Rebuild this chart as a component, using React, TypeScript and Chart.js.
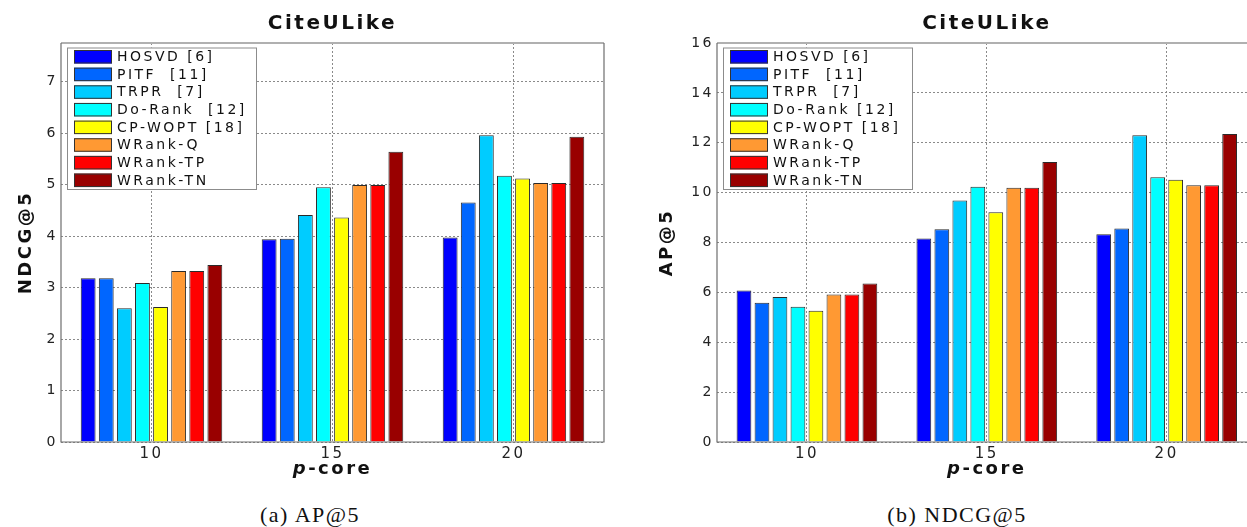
import React, { useEffect, useRef } from 'react';
import { Chart, registerables } from 'chart.js';

Chart.register(...registerables);

// ---------- data ----------
const CATEGORIES = ['10', '15', '20'];

const METHODS_A = ['HOSVD [6]', 'PITF  [11]', 'TRPR  [7]', 'Do-Rank  [12]', 'CP-WOPT [18]', 'WRank-Q', 'WRank-TP', 'WRank-TN'];
const METHODS_B = ['HOSVD [6]', 'PITF  [11]', 'TRPR  [7]', 'Do-Rank [12]', 'CP-WOPT [18]', 'WRank-Q', 'WRank-TP', 'WRank-TN'];

const COLORS = ['#0000ff', '#0066ff', '#00ccff', '#00ffff', '#ffff00', '#ff9933', '#ff0000', '#990000'];

// (a) left panel, y title NDCG@5
const HOSVD_A = [3.18, 3.94, 3.97];
const PITF_A = [3.18, 3.95, 4.65];
const TRPR_A = [2.6, 4.41, 5.96];
const DORANK_A = [3.09, 4.95, 5.17];
const CPWOPT_A = [2.62, 4.36, 5.12];
const WRANKQ_A = [3.32, 4.99, 5.03];
const WRANKTP_A = [3.32, 4.99, 5.03];
const WRANKTN_A = [3.44, 5.64, 5.93];

// (b) right panel, y title AP@5
const HOSVD_B = [6.08, 8.16, 8.33];
const PITF_B = [5.58, 8.53, 8.56];
const TRPR_B = [5.81, 9.68, 12.3];
const DORANK_B = [5.42, 10.24, 10.62];
const CPWOPT_B = [5.26, 9.21, 10.52];
const WRANKQ_B = [5.91, 10.2, 10.3];
const WRANKTP_B = [5.91, 10.2, 10.3];
const WRANKTN_B = [6.36, 11.23, 12.35];

const SERIES_A = [HOSVD_A, PITF_A, TRPR_A, DORANK_A, CPWOPT_A, WRANKQ_A, WRANKTP_A, WRANKTN_A];
const SERIES_B = [HOSVD_B, PITF_B, TRPR_B, DORANK_B, CPWOPT_B, WRANKQ_B, WRANKTP_B, WRANKTN_B];

const TITLE = 'CiteULike';
const X_TITLE_ITALIC = 'p';
const X_TITLE_REST = '-core';
const CAPTION_A = '(a) AP@5';
const CAPTION_B = '(b) NDCG@5';

// ---------- styles ----------
const FAMILY = '"DejaVu Sans", "Liberation Sans", sans-serif';
const GRID = '#8a8a8a';

const spacingPlugin = {
  id: 'spacing',
  beforeDraw(chart: any) {
    (chart.ctx as any).letterSpacing = '2.5px';
  },
};

const framePlugin = {
  id: 'frame',
  afterDatasetsDraw(chart: any) {
    const { ctx, chartArea: a } = chart;
    ctx.save();
    ctx.strokeStyle = '#b0b0b0';
    ctx.lineWidth = 2;
    ctx.beginPath();
    ctx.moveTo(a.left, a.top);
    ctx.lineTo(a.right, a.top);
    ctx.stroke();
    ctx.strokeStyle = '#6e6e6e';
    ctx.lineWidth = 1.2;
    ctx.beginPath();
    ctx.moveTo(a.left, a.top);
    ctx.lineTo(a.left, a.bottom);
    ctx.lineTo(a.right, a.bottom);
    ctx.lineTo(a.right, a.top);
    ctx.stroke();
    ctx.restore();
  },
};

const boxLegendPlugin = {
  id: 'boxLegend',
  afterDatasetsDraw(chart: any) {
    const { ctx, chartArea: a } = chart;
    const bx = a.left + 6;
    const by = a.top + 4.5;
    const bw = 190;
    const bh = 142.5;
    ctx.save();
    ctx.fillStyle = '#ffffff';
    ctx.fillRect(bx, by, bw, bh);
    ctx.strokeStyle = '#8c8c8c';
    ctx.lineWidth = 1;
    ctx.strokeRect(bx + 0.5, by + 0.5, bw - 1, bh - 1);
    chart.data.datasets.forEach((ds: any, i: number) => {
      const y = by + 2.5 + i * 17.65;
      ctx.fillStyle = ds.backgroundColor;
      ctx.fillRect(bx + 7, y, 38, 13.5);
      ctx.strokeStyle = '#333333';
      ctx.strokeRect(bx + 7.5, y + 0.5, 37, 12.5);
      ctx.fillStyle = '#111111';
      ctx.font = `14px ${FAMILY}`;
      ctx.textAlign = 'left';
      ctx.textBaseline = 'middle';
      ctx.fillText(ds.label, bx + 50, y + 7.5);
    });
    ctx.restore();
  },
};

const xTitlePlugin = {
  id: 'xTitle',
  afterDraw(chart: any) {
    const { ctx, chartArea: a } = chart;
    ctx.save();
    const fItalic = `italic bold 18px ${FAMILY}`;
    const fBold = `bold 18px ${FAMILY}`;
    ctx.font = fItalic;
    const w1 = ctx.measureText(X_TITLE_ITALIC).width;
    ctx.font = fBold;
    const w2 = ctx.measureText(X_TITLE_REST).width;
    const cx = (a.left + a.right) / 2;
    const x0 = cx - (w1 + w2) / 2;
    const y = a.bottom + 31.5;
    ctx.fillStyle = '#111111';
    ctx.textAlign = 'left';
    ctx.textBaseline = 'alphabetic';
    ctx.font = fItalic;
    ctx.fillText(X_TITLE_ITALIC, x0, y);
    ctx.font = fBold;
    ctx.fillText(X_TITLE_REST, x0 + w1, y);
    ctx.restore();
  },
};

type PanelProps = {
  left: number;
  width: number;
  height: number;
  labels: string[];
  series: number[][];
  yMax: number;
  yStep: number;
  yTitle: string;
  yTitlePad: number;
  yAxisWidth: number;
  padRight: number;
};

function Panel(p: PanelProps) {
  const ref = useRef<HTMLCanvasElement>(null);
  useEffect(() => {
    if (!ref.current) return;
    const chart = new Chart(ref.current, {
      type: 'bar',
      data: {
        labels: CATEGORIES,
        datasets: p.series.map((d, i) => ({
          label: p.labels[i],
          data: d,
          backgroundColor: COLORS[i],
          borderColor: '#2a2a2a',
          borderWidth: 1,
          categoryPercentage: 0.8,
          barPercentage: 0.82,
        })),
      },
      options: {
        responsive: false,
        animation: false,
        events: [],
        layout: { padding: { left: 0, right: p.padRight, top: 0, bottom: 0 } },
        plugins: {
          legend: { display: false },
          tooltip: { enabled: false },
          title: {
            display: true,
            text: TITLE,
            fullSize: false,
            color: '#111111',
            font: { family: FAMILY, size: 20, weight: 'bold', lineHeight: 1.2 },
            padding: { top: 12, bottom: 7 },
          },
        },
        scales: {
          x: {
            grid: { offset: false, drawTicks: false, color: GRID, lineWidth: 1 },
            border: { display: false, dash: [2, 2] },
            ticks: { font: { family: FAMILY, size: 15 }, color: '#222222', padding: 3, maxRotation: 0 },
            afterFit: (s: any) => {
              s.height = 48;
            },
          },
          y: {
            min: 0,
            max: p.yMax,
            ticks: {
              stepSize: p.yStep,
              includeBounds: false,
              font: { family: FAMILY, size: 14 },
              color: '#222222',
              padding: 3,
            },
            grid: { drawTicks: false, color: GRID, lineWidth: 1 },
            border: { display: false, dash: [2, 2] },
            title: {
              display: true,
              text: p.yTitle,
              color: '#111111',
              font: { family: FAMILY, size: 18, weight: 'bold', lineHeight: 1.2 },
              padding: { top: p.yTitlePad, bottom: 0 },
            },
            afterFit: (s: any) => {
              s.width = p.yAxisWidth;
            },
          },
        },
      } as any,
      plugins: [spacingPlugin, framePlugin, boxLegendPlugin, xTitlePlugin],
    });
    return () => chart.destroy();
  }, []);
  return (
    <canvas
      ref={ref}
      width={p.width}
      height={p.height}
      style={{ position: 'absolute', left: p.left, top: 0, width: p.width, height: p.height, display: 'block' }}
    />
  );
}

const captionStyle: React.CSSProperties = {
  position: 'absolute',
  top: 504,
  width: 300,
  textAlign: 'center',
  fontFamily: '"Liberation Serif", "Times New Roman", serif',
  fontSize: 22,
  lineHeight: '22px',
  letterSpacing: '1.5px',
  color: '#111',
  whiteSpace: 'pre',
};

export default function App() {
  return (
    <div
      style={{
        position: 'fixed',
        left: 0,
        top: 0,
        width: 1247,
        height: 527,
        overflow: 'hidden',
        background: '#ffffff',
      }}
    >
      <Panel
        left={0}
        width={620}
        height={490}
        labels={METHODS_A}
        series={SERIES_A}
        yMax={7.75}
        yStep={1}
        yTitle="NDCG@5"
        yTitlePad={15.2}
        yAxisWidth={61}
        padRight={16}
      />
      <Panel
        left={620}
        width={660}
        height={490}
        labels={METHODS_B}
        series={SERIES_B}
        yMax={16}
        yStep={2}
        yTitle="AP@5"
        yTitlePad={36.2}
        yAxisWidth={97}
        padRight={23.4}
      />
      <div style={{ ...captionStyle, left: 310 - 150 }}>{CAPTION_A}</div>
      <div style={{ ...captionStyle, left: 957 - 150 }}>{CAPTION_B}</div>
    </div>
  );
}
